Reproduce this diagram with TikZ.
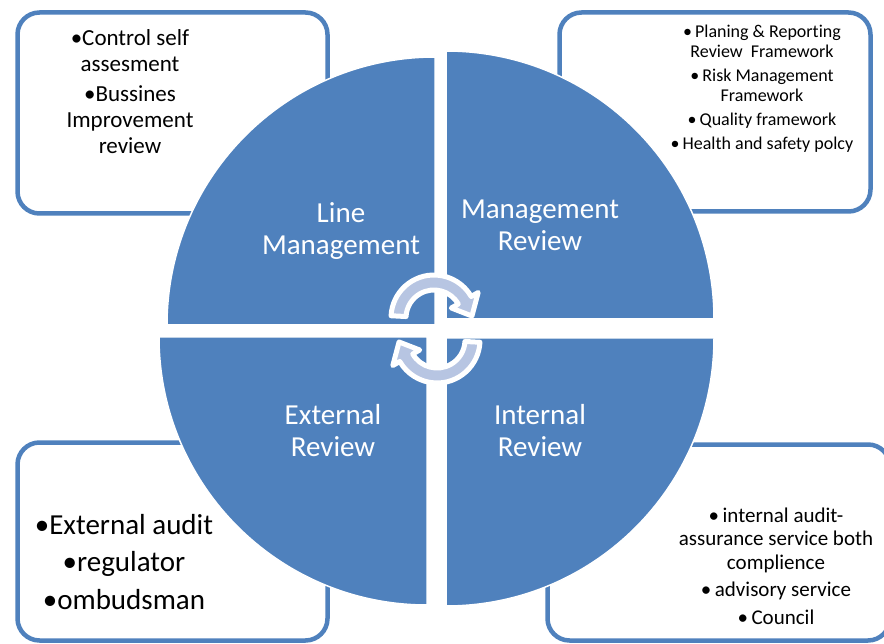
\documentclass[tikz,border=0pt]{standalone}
\usepackage{fontspec}
\setmainfont{Carlito}[Ligatures=NoCommon]
\definecolor{quadblue}{RGB}{79,129,189}
\definecolor{arrowfill}{RGB}{183,197,226}

\begin{document}
\begin{tikzpicture}[
    x=1pt, y=-1pt,
    panel/.style={draw=quadblue, line width=4.5pt, fill=white, rounded corners=22pt},
    quad/.style={fill=quadblue, draw=white, line width=1.5pt},
    quadlabel/.style={text=white, align=center, font=\fontsize{29}{32}\selectfont},
    note/.style={align=center, text=black},
    cyclearrow/.style={fill=arrowfill, draw=white, line width=5pt, line join=round}
  ]
  \useasboundingbox (0,0) rectangle (884,644);
  \clip (0,0) rectangle (884,644);

  % Corner boxes, behind the circle
  \draw[panel] (17.5,12.5) rectangle (327.5,213.5);
  \draw[panel] (559.5,12.5) rectangle (870.5,211.5);
  \draw[panel] (17.5,442.5) rectangle (327.5,640.5);
  \draw[panel] (547.5,444.5) rectangle (890,640.5);

  % Four quarters of the circle
  \path[quad] (435,325) -- ++(180:268) arc (180:270:268) -- cycle;
  \path[quad] (446,319) -- ++(270:268) arc (270:360:268) -- cycle;
  \path[quad] (446,338) -- ++(0:268) arc (0:90:268) -- cycle;
  \path[quad] (427,337) -- ++(90:268) arc (90:180:268) -- cycle;

  % Quarter labels
  \node[quadlabel] (lm) at (341,231) {Line\\Management};
  \node[quadlabel] (mr) at (540,225) {Management\\Review};
  \node[quadlabel] (er) at (333,431) {External\\Review};
  \node[quadlabel] (ir) at (540,431) {Internal\\Review};

  % Box texts
  \node[note, font=\fontsize{23}{26}\selectfont] (selfcheck) at (130,92)
    {•Control self\\assesment\\[4pt]•Bussines\\Improvement\\review};
  \node[note, font=\fontsize{18}{20}\selectfont] (frameworks) at (762,89)
    {•\,Planing \& Reporting\\Review~~Framework\\[4pt]•\,Risk Management\\Framework\\[4pt]•\,Quality framework\\[4pt]•\,Health and safety polcy};
  \node[note, font=\fontsize{29}{37.5}\selectfont] (outside) at (124,562)
    {•External audit\\•regulator\\•ombudsman};
  \node[note, font=\fontsize{21}{23.5}\selectfont] (inside) at (776,566)
    {•\,internal audit-\\assurance service both\\complience\\[4pt]•\,advisory service\\[4pt]•\,Council};

  % Two circular arrows in the middle
  \foreach \cx/\cy/\rot in {434/318/0, 437/340/180}
    \path[cyclearrow, shift={(\cx,\cy)}, rotate=\rot]
      (183:43) arc (183:330:43) -- (330:51) -- (357:38) -- (330:20)
      -- (330:28) arc (330:183:28) -- cycle;
\end{tikzpicture}
\end{document}
